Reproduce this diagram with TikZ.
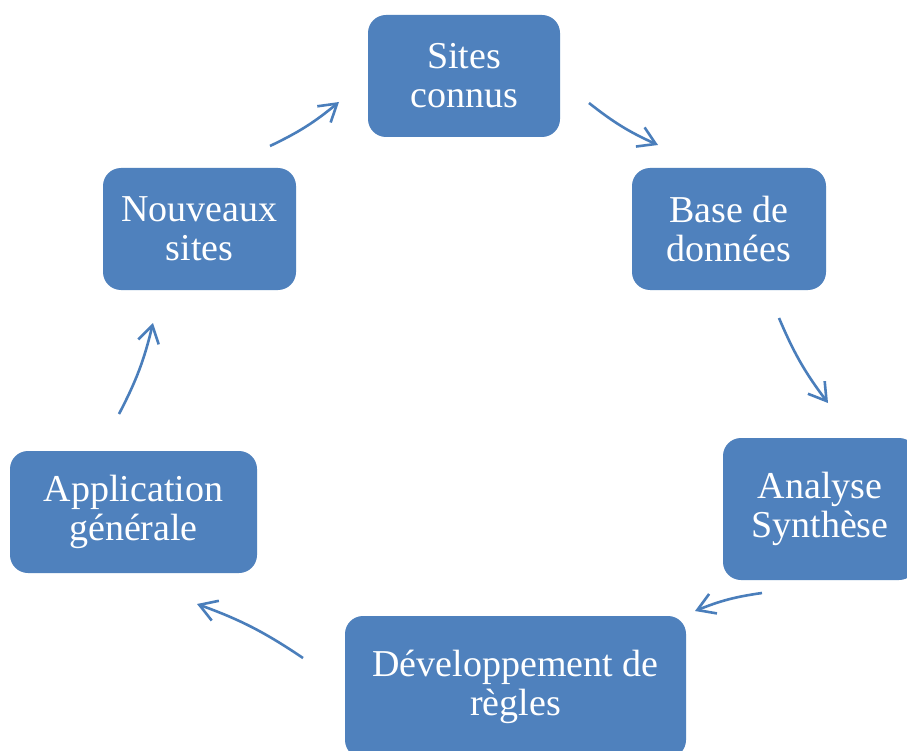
\documentclass[tikz,border=0pt]{standalone}
\usepackage{fontspec}
\setmainfont{Liberation Serif}
\usetikzlibrary{arrows.meta}
\definecolor{boxblue}{HTML}{4F81BD}
\definecolor{arrowblue}{HTML}{4A7EBB}
\begin{document}
\begin{tikzpicture}[x=1pt,y=-1pt,
  box/.style={draw=none, fill=boxblue, rounded corners=18pt, text=white, align=center,
    font=\fontsize{38}{39}\selectfont, inner sep=0pt},
  flow/.style={draw=arrowblue, line width=2.6pt,
    -{Straight Barb[length=17pt,width=21pt,line width=2.6pt]}}]
\useasboundingbox (0,0) rectangle (907,751);
\clip (0,0) rectangle (907,751);
\fill[white] (0,0) rectangle (907,751);
\node[box, minimum width=192pt, minimum height=122pt] (sites) at (464,76) {Sites\\connus};
\node[box, minimum width=194pt, minimum height=122pt] (base) at (729,229) {Base de\\données};
\node[box, minimum width=194pt, minimum height=142pt] (analyse) at (820,509) {Analyse\\Synthèse};
\node[box, minimum width=341pt, minimum height=142pt] (dev) at (515.5,687) {Développement de\\règles};
\node[box, minimum width=247pt, minimum height=122pt] (appli) at (133.5,512) {Application\\générale};
\node[box, minimum width=193pt, minimum height=122pt] (nouv) at (199.5,229) {Nouveaux\\sites};
\coordinate (a1s) at (270,146); \coordinate (a1e) at (339,102);
\coordinate (a2s) at (589,103); \coordinate (a2e) at (658,145);
\coordinate (a3s) at (779,318); \coordinate (a3e) at (828,403);
\coordinate (a4s) at (762,593); \coordinate (a4e) at (695,611);
\coordinate (a5s) at (303,658); \coordinate (a5e) at (197,604);
\coordinate (a6s) at (119,414); \coordinate (a6e) at (153,323);
\draw[flow] (a1s) to[bend right=7] (a1e);
\draw[flow] (a2s) to[bend right=7] (a2e);
\draw[flow] (a3s) to[bend right=7] (a3e);
\draw[flow] (a4s) to[bend right=7] (a4e);
\draw[flow] (a5s) to[bend right=7] (a5e);
\draw[flow] (a6s) to[bend right=7] (a6e);
\end{tikzpicture}
\end{document}
